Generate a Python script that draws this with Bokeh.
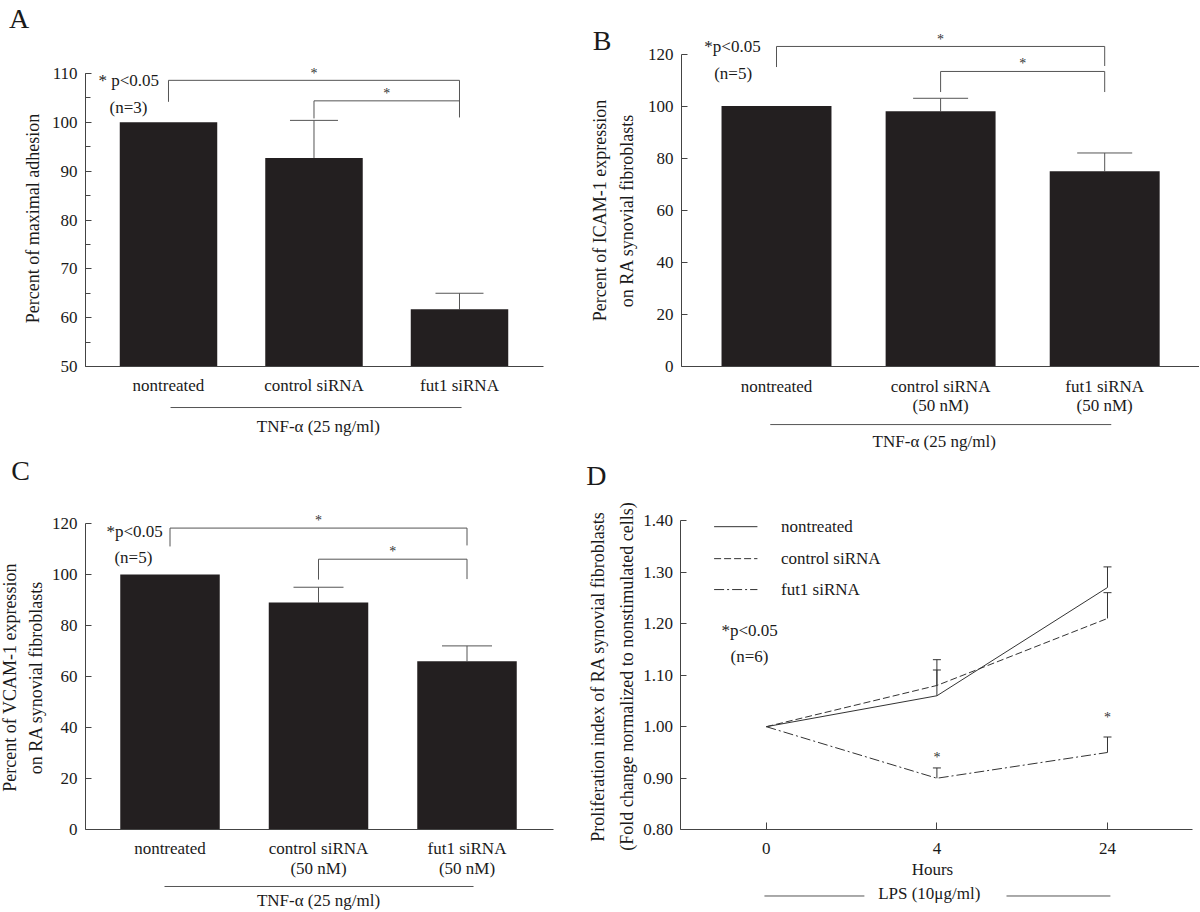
import math
from bokeh.plotting import figure
from bokeh.layouts import column, row
from bokeh.models import (Range1d, FixedTicker, SingleIntervalTicker, Whisker, TeeHead,
                          ColumnDataSource, PrintfTickFormatter)
from bokeh.embed import file_html
from bokeh.resources import INLINE
from bokeh.core.properties import value

# ---------------- data ----------------
cats_A = ["nontreated", "control siRNA", "fut1 siRNA"]
adhesion = [100.0, 92.7, 61.7]
adhesion_err_top = [None, 100.4, 65.0]

cats_BC = ["nontreated", "control siRNA\n(50 nM)", "fut1 siRNA\n(50 nM)"]
icam = [100.0, 98.0, 75.0]
icam_err_top = [None, 103.0, 82.0]

vcam = [100.0, 89.0, 66.0]
vcam_err_top = [None, 95.0, 72.0]

hours = ["0", "4", "24"]
prolif_nontreated = [1.00, 1.06, 1.27]
prolif_nontreated_err_top = [None, 1.13, 1.31]
prolif_control = [1.00, 1.08, 1.21]
prolif_control_err_top = [None, 1.11, 1.26]
prolif_fut1 = [1.00, 0.90, 0.95]
prolif_fut1_err_top = [None, 0.92, 0.98]

# ---------------- style ----------------
FONT = "Liberation Serif"
BAR = "#231f20"
INK = "#1a1a1a"
AXC = "#444444"
LNC = "#555555"


def panel(w, h, xr, yr):
    p = figure(width=w, height=h, x_range=Range1d(*xr), y_range=Range1d(*yr),
               output_backend="svg", toolbar_location=None, title=None,
               min_border_left=0, min_border_right=0, min_border_top=0, min_border_bottom=0,
               outline_line_color=None, background_fill_color="white",
               border_fill_color="white")
    p.grid.visible = False
    for ax in (p.xaxis[0], p.yaxis[0]):
        ax.axis_line_color = AXC
        ax.axis_line_width = 1
        ax.major_tick_line_color = AXC
        ax.minor_tick_line_color = AXC
        ax.major_label_text_font = FONT
        ax.major_label_text_font_size = "17px"
        ax.major_label_text_color = INK
        ax.major_label_text_line_height = 1.05
    return p


def txt(p, x, y, t, size="17px", align="left", color=INK, angle=0.0):
    p.text(x=[x], y=[y], text=[t], text_font=value(FONT), text_font_size=size,
           text_align=align, text_baseline="middle", text_color=color, angle=angle)


def seg(p, x0, x1, y0, y1=None):
    p.segment(x0=[x0], y0=[y0], x1=[x1], y1=[y0 if y1 is None else y1],
              line_color=LNC, line_width=1)


def errbars(p, xs, vals, errs, cap, color):
    ex = [x for x, e in zip(xs, errs) if e is not None]
    el = [v for v, e in zip(vals, errs) if e is not None]
    eu = [e for e in errs if e is not None]
    p.add_layout(Whisker(source=ColumnDataSource(dict(x=ex, lower=el, upper=eu)),
                         base="x", lower="lower", upper="upper", dimension="height",
                         line_color=color, line_width=1,
                         upper_head=TeeHead(size=cap, line_color=color, line_width=1),
                         lower_head=None))


def bar_panel(w, h, xr, yr, cats, vals, errs, bottom, yaxis_x, ybounds, xend, yticker,
              ylines, cap, brackets, stars, ptxt, ntxt, letter, tnf):
    p = panel(w, h, xr, yr)
    xs = list(range(len(cats)))
    p.vbar(x=xs, top=vals, bottom=bottom, width=0.67, fill_color=BAR, line_color=None)
    errbars(p, xs, vals, errs, cap, LNC)
    p.multi_line(xs=[b[0] for b in brackets], ys=[b[1] for b in brackets],
                 line_color=LNC, line_width=1)
    p.text(x=[s[0] for s in stars], y=[s[1] for s in stars], text=["*"] * len(stars),
           text_font=value(FONT), text_font_size="14px", text_align="center",
           text_baseline="middle", text_color="#333333")
    txt(p, ptxt[0], ptxt[1], ptxt[2])
    txt(p, ntxt[0], ntxt[1], "(n=" + ntxt[2] + ")")
    txt(p, letter[0], letter[1], letter[2], size="28px", align="center")
    seg(p, tnf[0], tnf[1], tnf[2])
    txt(p, tnf[3], tnf[4], tnf[5], align="center")
    for lx, ly, lt in ylines:
        txt(p, lx, ly, lt, size="18px", align="center", angle=math.pi / 2)

    xa = p.xaxis[0]
    xa.fixed_location = bottom
    xa.bounds = (yaxis_x, xend)
    xa.ticker = FixedTicker(ticks=xs)
    xa.major_label_overrides = {i: c for i, c in zip(xs, cats)}
    xa.major_tick_in = 0
    xa.major_tick_out = 0
    xa.minor_tick_in = 0
    xa.minor_tick_out = 0
    xa.major_label_standoff = 10
    ya = p.yaxis[0]
    ya.fixed_location = yaxis_x
    ya.ticker = yticker
    ya.bounds = ybounds
    ya.major_tick_in = 6
    ya.major_tick_out = 0
    ya.minor_tick_in = 5
    ya.minor_tick_out = 0
    ya.major_label_standoff = 8
    return p


# Panel A: page box x 0..584, y 0..452
pA = bar_panel(584, 452, (-1.1546, 2.8591), (32.389, 124.949),
               cats_A, adhesion, adhesion_err_top, 50, -0.5704, (50, 110), 2.5773,
               SingleIntervalTicker(interval=10, num_minor_ticks=2),
               [(-0.928, 80.3, "Percent of maximal adhesion")], 48,
               [([0, 0, 2, 2], [104.2, 108.6, 108.6, 104.2]),
                ([1, 1, 2, 2], [100.8, 104.4, 104.4, 101.0])],
               [(1, 110.1), (1.5, 106.0)],
               (-0.481, 108.6, "* p<0.05"), (-0.405, 103.0, "3"),
               (-1.0275, 121.26, "A"),
               (0.014, 2.014, 41.6, 1.03, 37.7, "TNF-\u03b1 (25 ng/ml)"))

# Panel B: page box x 584..1199, y 0..452
pB = bar_panel(615, 452, (-1.17002, 2.5777), (-33.026, 140.553),
               cats_BC, icam, icam_err_top, 0, -0.5789, (0, 120), 2.5777,
               SingleIntervalTicker(interval=20, num_minor_ticks=0),
               [(-1.0786, 59.9, "Percent of ICAM-1 expression"),
                (-0.908, 59.9, "on RA synovial fibroblasts")], 55,
               [([0, 0, 2, 2], [115.0, 122.9, 122.9, 115.4]),
                ([1, 1, 2, 2], [105.4, 113.3, 113.3, 105.4])],
               [(1, 125.6), (1.5, 116.4)],
               (-0.44, 122.9, "*p<0.05"), (-0.38, 112.5, "5"),
               (-1.0622, 125.19, "B"),
               (-0.038, 2.04, -22.3, 0.974, -28.8, "TNF-\u03b1  (25 ng/ml)"))

# Panel C: page box x 0..584, y 452..911
pC = bar_panel(584, 459, (-1.1414, 2.7912), (-32.157, 147.843),
               cats_BC, vcam, vcam_err_top, 0, -0.569, (0, 120), 2.5825,
               SingleIntervalTicker(interval=20, num_minor_ticks=0),
               [(-1.0741, 59.6, "Percent of VCAM-1 expression"),
                (-0.9057, 59.6, "on RA synovial fibroblasts")], 50,
               [([0, 0, 2, 2], [111.0, 118.2, 118.2, 111.4]),
                ([1, 1, 2, 2], [98.0, 106.0, 106.0, 98.2])],
               [(1, 121.0), (1.5, 109.0)],
               (-0.428, 116.9, "*p<0.05"), (-0.374, 106.7, "5"),
               (-1.0067, 140.78, "C"),
               (-0.037, 2.044, -22.35, 1.0, -27.84, "TNF-\u03b1 (25 ng/ml)"))

# Panel D: page box x 584..1199, y 452..911
pD = panel(615, 459, (-1.06565, 2.5393), (0.64151, 1.53191))
hx = list(range(len(hours)))
series = [(prolif_nontreated, prolif_nontreated_err_top, None, "nontreated"),
          (prolif_control, prolif_control_err_top, "7 3", "control siRNA"),
          (prolif_fut1, prolif_fut1_err_top, "10 3 2 3", "fut1 siRNA")]
leg_y = [1.388, 1.326, 1.266]
for (vals, errs, dash, name), ly in zip(series, leg_y):
    kw = dict(line_color="#333333", line_width=1)
    if dash:
        kw["line_dash"] = dash
    pD.line(x=hx, y=vals, **kw)
    errbars(pD, hx, vals, errs, 8, "#333333")
    pD.line(x=[-0.306, -0.052], y=[ly, ly], **kw)
    txt(pD, 0.086, ly, name)

pD.text(x=[1, 2], y=[0.94, 1.017], text=["*", "*"], text_font=value(FONT),
        text_font_size="14px", text_align="center", text_baseline="middle",
        text_color="#333333")
txt(pD, -0.263, 1.187, "*p<0.05")
txt(pD, -0.21, 1.136, "(n=6)")
txt(pD, -0.9965, 1.4873, "D", size="28px", align="center")
txt(pD, 0.974, 0.723, "Hours", align="center")
seg(pD, -0.011, 0.575, 0.6716)
seg(pD, 1.408, 2.017, 0.6716)
txt(pD, 0.955, 0.6765, "LPS (10\u03bcg/ml)", align="center")
txt(pD, -0.9859, 1.0974, "Proliferation index of RA synovial fibroblasts",
    size="18px", align="center", angle=math.pi / 2)
txt(pD, -0.8165, 1.0974, "(Fold change normalized to nonstimulated cells)",
    size="18px", align="center", angle=math.pi / 2)

xa = pD.xaxis[0]
xa.fixed_location = 0.8
xa.bounds = (-0.5, 2.5)
xa.ticker = FixedTicker(ticks=hx)
xa.major_label_overrides = {i: h for i, h in zip(hx, hours)}
xa.major_tick_in = 7
xa.major_tick_out = 0
xa.minor_tick_in = 0
xa.minor_tick_out = 0
xa.major_label_standoff = 13
ya = pD.yaxis[0]
ya.fixed_location = -0.5
ya.bounds = (0.8, 1.4)
ya.ticker = FixedTicker(ticks=[0.8, 0.9, 1.0, 1.1, 1.2, 1.3, 1.4])
ya.formatter = PrintfTickFormatter(format="%.2f")
ya.major_tick_in = 6
ya.major_tick_out = 0
ya.minor_tick_in = 0
ya.minor_tick_out = 0
ya.major_label_standoff = 8

layout = column(row(pA, pB), row(pC, pD))
open("out.html", "w").write(file_html(layout, INLINE))
